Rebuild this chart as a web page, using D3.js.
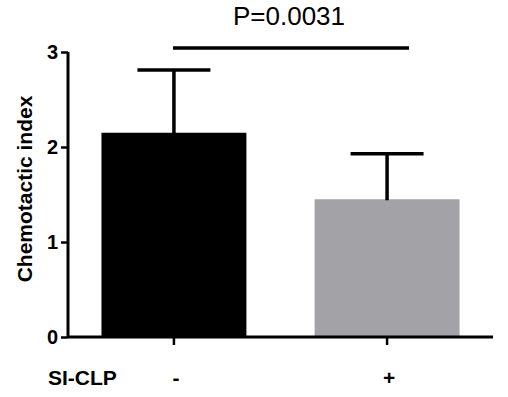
<!DOCTYPE html>
<html>
<head>
<meta charset="utf-8">
<script src="https://cdn.jsdelivr.net/npm/d3@7"></script>
<style>
body { margin: 0; background: #fff; }
svg { font-family: "Liberation Sans", Arial, sans-serif; }
</style>
</head>
<body>
<svg width="508" height="397"></svg>
<script>
var groups = ["-", "+"];
var means = [2.15, 1.45];
var errTop = [2.81, 1.93];
var colors = ["#000000", "#a3a3a7"];
var yTicks = [0, 1, 2, 3];
var pText = "P=0.0031";

var svg = d3.select("svg");
var x0 = 68, x1 = 493;

var y = d3.scaleLinear().domain([0, 3]).range([337, 52]);
var x = d3.scaleBand().domain(groups).range([x0, x1]).paddingInner(0.32).paddingOuter(0.157);
var cx = d => x(d) + x.bandwidth() / 2;

// bars
svg.selectAll("rect.bar")
    .data(groups)
    .enter().append("rect")
    .attr("x", d => x(d))
    .attr("y", (d, i) => y(means[i]))
    .attr("width", x.bandwidth())
    .attr("height", (d, i) => y(0) - y(means[i]))
    .attr("fill", (d, i) => colors[i]);

// error bars (upper only)
var capW = 73;
groups.forEach(function (g, i) {
    svg.append("line")
        .attr("x1", cx(g)).attr("x2", cx(g))
        .attr("y1", y(means[i]) + 1).attr("y2", y(errTop[i]))
        .attr("stroke", "#000").attr("stroke-width", 3.5);
    svg.append("line")
        .attr("x1", cx(g) - capW / 2).attr("x2", cx(g) + capW / 2)
        .attr("y1", y(errTop[i])).attr("y2", y(errTop[i]))
        .attr("stroke", "#000").attr("stroke-width", 3.5);
});

// y axis
var yAxis = svg.append("g")
    .attr("transform", "translate(" + x0 + ",0)")
    .call(d3.axisLeft(y).tickValues(yTicks).tickSize(7).tickPadding(3).tickFormat(d3.format("d")));
yAxis.select(".domain").attr("stroke-width", 3).attr("d", "M0," + y(3) + "V" + y(0));
yAxis.selectAll(".tick line").attr("stroke-width", 2.5);
yAxis.selectAll("text").attr("font-size", 20).attr("font-weight", "bold").attr("font-family", "Liberation Sans, Arial, sans-serif").attr("fill", "#000");

// x axis
var xAxis = svg.append("g")
    .attr("transform", "translate(0," + y(0) + ")")
    .call(d3.axisBottom(x).tickSize(8).tickFormat(""));
xAxis.select(".domain").attr("stroke-width", 3).attr("d", "M" + x0 + ",0H" + x1);
xAxis.selectAll(".tick line").attr("stroke-width", 2.5);

// x labels
svg.selectAll("text.grp")
    .data(groups)
    .enter().append("text")
    .attr("x", d => cx(d) + 2)
    .attr("y", 385)
    .attr("text-anchor", "middle")
    .attr("font-size", 21)
    .attr("font-weight", "bold")
    .text(d => d);

svg.append("text")
    .attr("x", 48).attr("y", 385)
    .attr("font-size", 21).attr("font-weight", "bold")
    .text("SI-CLP");

// y title
svg.append("text")
    .attr("transform", "translate(32,189) rotate(-90)")
    .attr("text-anchor", "middle")
    .attr("font-size", 21).attr("font-weight", "bold")
    .text("Chemotactic index");

// significance line
svg.append("line")
    .attr("x1", 173).attr("x2", 409)
    .attr("y1", 48).attr("y2", 48)
    .attr("stroke", "#000").attr("stroke-width", 3.5);
svg.append("text")
    .attr("x", 289).attr("y", 25)
    .attr("text-anchor", "middle")
    .attr("font-size", 26)
    .text(pText);
</script>
</body>
</html>
